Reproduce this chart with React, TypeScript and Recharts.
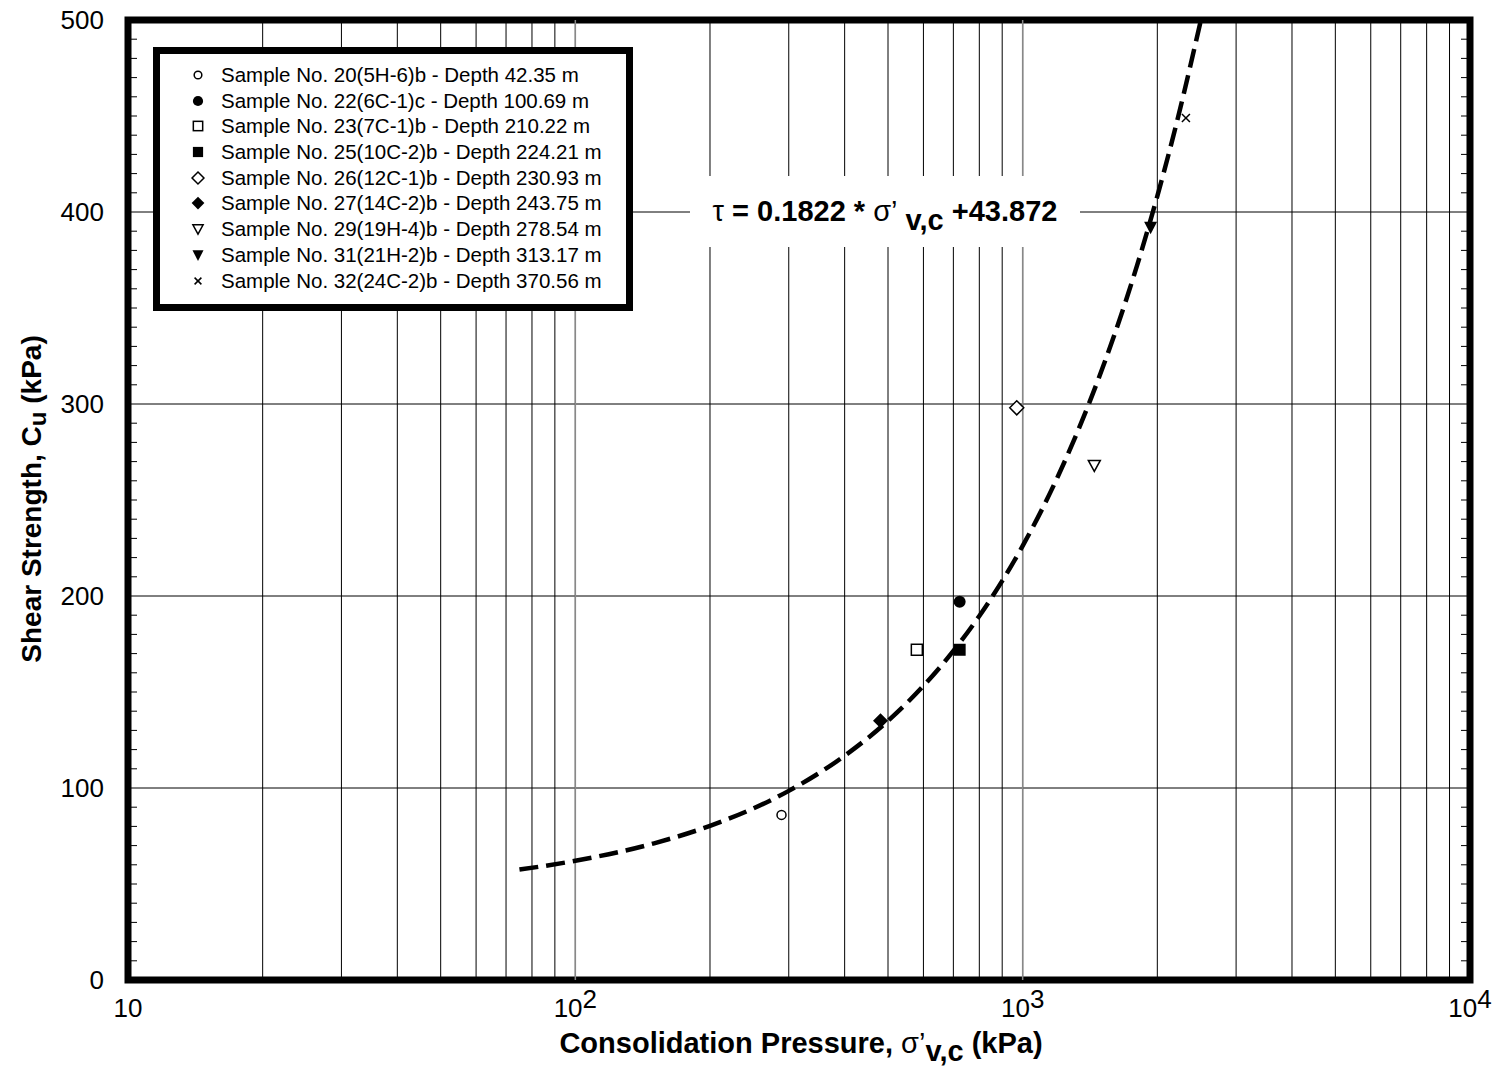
import React from 'react';
import {
  ComposedChart, Scatter, Line, XAxis, YAxis, CartesianGrid,
  ReferenceLine, ReferenceArea, Legend,
} from 'recharts';

const FONT = '"Liberation Sans", Arial, Helvetica, sans-serif';

// samples (sigma'v,c in kPa, shear strength in kPa)
const sampleNames = [
  'Sample No. 20(5H-6)b - Depth 42.35 m',
  'Sample No. 22(6C-1)c - Depth 100.69 m',
  'Sample No. 23(7C-1)b - Depth 210.22 m',
  'Sample No. 25(10C-2)b - Depth 224.21 m',
  'Sample No. 26(12C-1)b - Depth 230.93 m',
  'Sample No. 27(14C-2)b - Depth 243.75 m',
  'Sample No. 29(19H-4)b - Depth 278.54 m',
  'Sample No. 31(21H-2)b - Depth 313.17 m',
  'Sample No. 32(24C-2)b - Depth 370.56 m',
];
const sampleMarkers = [
  'circleOpen', 'circle', 'squareOpen', 'square', 'diamondOpen',
  'diamond', 'triangleOpen', 'triangle', 'cross',
];
const sampleSigma = [289, 723, 580, 723, 970, 481, 1446, 1932, 2317];
const sampleTau = [86, 197, 172, 172, 298, 135, 268, 392, 449];

// fitted curve
const fitSigma = [75, 100, 150, 200, 300, 400, 500, 600, 700, 800, 1000, 1200, 1400, 1600, 1800, 2000, 2200, 2503];
const fitTau = [57.5, 62.1, 71.2, 80.3, 98.5, 116.8, 135.0, 153.2, 171.4, 189.6, 226.1, 262.5, 299.0, 335.4, 371.8, 408.3, 444.7, 500];

const xGridTicks = [
  10, 20, 30, 40, 50, 60, 70, 80, 90,
  100, 200, 300, 400, 500, 600, 700, 800, 900,
  1000, 2000, 3000, 4000, 5000, 6000, 7000, 8000, 9000, 10000,
];
const decadeTicks = [10, 100, 1000, 10000];
const decadeExponents = ['', '2', '3', '4'];
const yTicks = [0, 100, 200, 300, 400, 500];
const yMinorTicks = [
  10, 20, 30, 40, 50, 60, 70, 80, 90, 110, 120, 130, 140, 150, 160, 170, 180, 190,
  210, 220, 230, 240, 250, 260, 270, 280, 290, 310, 320, 330, 340, 350, 360, 370, 380, 390,
  410, 420, 430, 440, 450, 460, 470, 480, 490,
];
const xMin = 10;
const xMax = 10000;

const fitData = fitSigma.map((x, i) => ({ x, y: fitTau[i] }));
const minorLeft = yMinorTicks.map((y) => ({ x: xMin, y }));
const minorRight = yMinorTicks.map((y) => ({ x: xMax, y }));

function Marker({ kind, cx, cy, s = 1 }: { kind: string; cx: number; cy: number; s?: number }) {
  const line = { stroke: '#000', strokeWidth: 1.5 };
  switch (kind) {
    case 'circleOpen':
      return <circle cx={cx} cy={cy} r={4.5 * s} fill="#fff" {...line} />;
    case 'circle':
      return <circle cx={cx} cy={cy} r={6 * s} fill="#000" />;
    case 'squareOpen': {
      const h = 5.5 * s;
      return <rect x={cx - h} y={cy - h} width={2 * h} height={2 * h} fill="#fff" {...line} />;
    }
    case 'square': {
      const h = 6 * s;
      return <rect x={cx - h} y={cy - h} width={2 * h} height={2 * h} fill="#000" />;
    }
    case 'diamondOpen': {
      const h = 7 * s;
      return <polygon points={`${cx},${cy - h} ${cx + h},${cy} ${cx},${cy + h} ${cx - h},${cy}`} fill="#fff" {...line} />;
    }
    case 'diamond': {
      const h = 7.5 * s;
      return <polygon points={`${cx},${cy - h} ${cx + h},${cy} ${cx},${cy + h} ${cx - h},${cy}`} fill="#000" />;
    }
    case 'triangleOpen': {
      const w = 6 * s;
      return <polygon points={`${cx - w},${cy - 5 * s} ${cx + w},${cy - 5 * s} ${cx},${cy + 6 * s}`} fill="#fff" {...line} />;
    }
    case 'triangle': {
      const w = 6.5 * s;
      return <polygon points={`${cx - w},${cy - 5.5 * s} ${cx + w},${cy - 5.5 * s} ${cx},${cy + 7 * s}`} fill="#000" />;
    }
    default: {
      const h = 4 * s;
      return (
        <g {...line}>
          <line x1={cx - h} y1={cy - h} x2={cx + h} y2={cy + h} />
          <line x1={cx - h} y1={cy + h} x2={cx + h} y2={cy - h} />
        </g>
      );
    }
  }
}

// short inward tick marks drawn on the frame
const TickIn = (dir: number) => (p: any) => (
  <line x1={p.cx} y1={p.cy} x2={p.cx + dir * 9} y2={p.cy} stroke="#000" strokeWidth={1} />
);

function XTick(props: any) {
  const { x, y, payload } = props;
  const i = decadeTicks.indexOf(payload.value);
  if (i < 0) return <g />;
  const exp = decadeExponents[i];
  return (
    <text x={x} y={y} dy={37} textAnchor="middle" fontSize={26} fill="#000" fontFamily={FONT}>
      10
      {exp && <tspan dy={-9}>{exp}</tspan>}
    </text>
  );
}

function LegendBox() {
  return (
    <div
      style={{
        border: '7px solid #000', background: '#fff', boxSizing: 'border-box',
        width: 480, height: 264, paddingTop: 8, fontFamily: FONT, fontSize: 20.5, color: '#000',
      }}
    >
      {sampleNames.map((name, i) => (
        <div key={name} style={{ position: 'relative', height: 25.7, lineHeight: '25.7px', whiteSpace: 'nowrap' }}>
          <svg width={20} height={20} style={{ position: 'absolute', left: 28, top: 3 }}>
            <Marker kind={sampleMarkers[i]} cx={10} cy={10} s={0.85} />
          </svg>
          <span style={{ position: 'absolute', left: 61 }}>{name}</span>
        </div>
      ))}
    </div>
  );
}

const XTitle = () => (
  <text x={801} y={1053} textAnchor="middle" fontSize={29} fontWeight="bold" fill="#000" fontFamily={FONT}>
    Consolidation Pressure,{' '}
    <tspan fontWeight="normal">σ’</tspan>
    <tspan dy={8}>v,c</tspan>
    <tspan dy={-8}> (kPa)</tspan>
  </text>
);

const YTitle = () => (
  <text
    x={31} y={499} transform="rotate(-90, 31, 499)" textAnchor="middle" dominantBaseline="central"
    fontSize={28} fontWeight="bold" fill="#000" fontFamily={FONT}
  >
    Shear Strength, C
    <tspan dy={6} fontSize={24}>u</tspan>
    <tspan dy={-6}> (kPa)</tspan>
  </text>
);

export default function App() {
  return (
    <div style={{ position: 'relative', width: 1502, height: 1070, margin: '-8px 0 0 -8px', fontFamily: FONT }}>
      <ComposedChart width={1502} height={1070} margin={{ top: 20, right: 32, bottom: 40, left: 48 }}>
        <CartesianGrid stroke="#000" strokeWidth={1} />
        <XAxis
          dataKey="x" type="number" scale="log" domain={[xMin, xMax]} ticks={xGridTicks}
          allowDataOverflow height={50} tickSize={0} tickMargin={0} axisLine={false}
          tick={<XTick />} interval={0} label={<XTitle />}
        />
        <YAxis
          dataKey="y" type="number" domain={[0, 500]} ticks={yTicks} width={80}
          tickSize={0} tickMargin={24} axisLine={false} interval={0}
          tick={{ fontSize: 26, fill: '#000', fontFamily: FONT }} label={<YTitle />}
        />
        <ReferenceLine x={100} stroke="#888" strokeWidth={1.5} />
        <ReferenceLine x={1000} stroke="#888" strokeWidth={1.5} />
        <Scatter data={minorLeft} isAnimationActive={false} legendType="none" shape={TickIn(1)} />
        <Scatter data={minorRight} isAnimationActive={false} legendType="none" shape={TickIn(-1)} />
        <Line
          data={fitData} dataKey="y" type="monotone" stroke="#000" strokeWidth={4.5}
          strokeDasharray="19 8" dot={false} isAnimationActive={false} legendType="none"
        />
        {sampleNames.map((name, i) => (
          <Scatter
            key={name} name={name}
            data={[{ x: sampleSigma[i], y: sampleTau[i] }]}
            isAnimationActive={false}
            shape={(p: any) => <Marker kind={sampleMarkers[i]} cx={p.cx} cy={p.cy} />}
          />
        ))}
        <ReferenceArea
          x1={xMin} x2={xMax} y1={0} y2={500} fill="none" fillOpacity={0}
          stroke="#000" strokeWidth={7} ifOverflow="visible"
        />
        <Legend
          layout="vertical" align="center" verticalAlign="middle"
          wrapperStyle={{ left: 153, top: 47, width: 480, height: 264 }}
          content={() => <LegendBox />}
        />
      </ComposedChart>
      <div
        style={{
          position: 'absolute', left: 690, top: 176, width: 390, height: 71, background: '#fff',
          display: 'flex', alignItems: 'center', justifyContent: 'center',
          fontSize: 29, fontWeight: 'bold', color: '#000', whiteSpace: 'nowrap',
        }}
      >
        <span style={{ fontWeight: 'normal' }}>τ</span>&nbsp;= 0.1822 *&nbsp;
        <span style={{ fontWeight: 'normal' }}>σ’</span>&nbsp;
        <span style={{ position: 'relative', top: 9 }}>v,c</span>&nbsp;+43.872
      </div>
    </div>
  );
}
